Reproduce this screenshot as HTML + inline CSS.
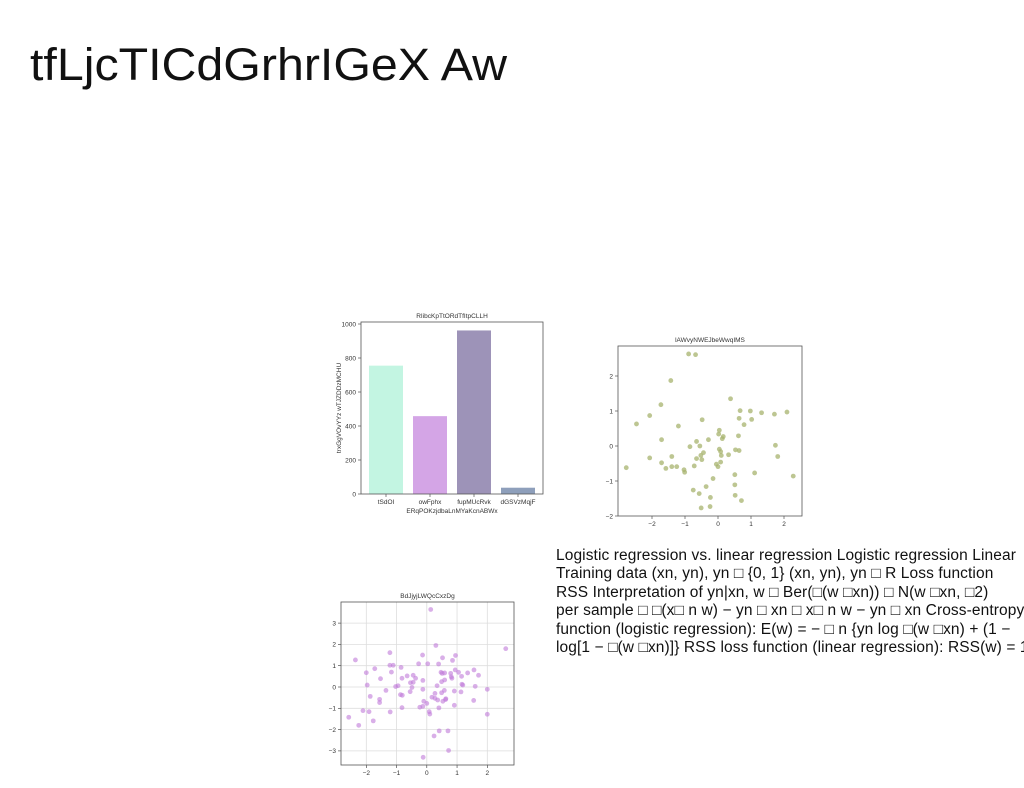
<!DOCTYPE html>
<html><head><meta charset="utf-8"><style>
html,body{margin:0;padding:0;background:#fff;}
body{width:1024px;height:788px;position:relative;overflow:hidden;font-family:"Liberation Sans",sans-serif;}
#txt{position:absolute;left:556px;top:547px;width:468px;font-size:15.5px;letter-spacing:0.1px;line-height:18.4px;color:#111;white-space:nowrap;overflow:hidden;}
svg{position:absolute;left:0;top:0;}
</style></head><body>
<svg id="s" width="1024" height="788">
<text x="30" y="80" font-size="45" font-family="Liberation Sans, sans-serif" fill="#111" textLength="477" lengthAdjust="spacingAndGlyphs">tfLjcTICdGrhrIGeX Aw</text>
</svg>
<div id="txt">Logistic regression vs. linear regression Logistic regression Linear<br>Training data (xn, yn), yn □ {0, 1} (xn, yn), yn □ R Loss function<br>RSS Interpretation of yn|xn, w □ Ber(□(w □xn)) □ N(w □xn, □2)<br>per sample □ □(x□ n w) − yn □ xn □ x□ n w − yn □ xn Cross-entropy<br>function (logistic regression): E(w) = − □ n {yn log □(w □xn) + (1 −<br>log[1 − □(w □xn)]} RSS loss function (linear regression): RSS(w) = 1</div>
<script>
// ---- bar chart data ----
const barCategories = ["tSdOI","owFphx","fupMUcRvk","dGSVzMqjF"];
const barValues = [755, 458, 962, 37];
const barColors = ["#c3f5e2","#d4a5e6","#9d93b8","#8e9fbb"];
const barYTicks = [0,200,400,600,800,1000];
// ---- scatter 1 data ----
const sc1X = [-2.78,-2.47,-2.07,-2.07,-1.73,-1.71,-1.71,-1.58,-1.43,-1.40,-1.40,-1.25,-1.20,-1.03,-1.01,-0.89,-0.85,-0.68,-0.72,-0.75,-0.65,-0.65,-0.57,-0.55,-0.52,-0.49,-0.48,-0.44,-0.51,-0.36,-0.29,-0.23,-0.24,-0.15,-0.05,0,0.02,0.04,0.04,0.08,0.08,0.10,0.13,0.16,0.32,0.38,0.51,0.51,0.52,0.53,0.62,0.64,0.64,0.67,0.71,0.79,0.98,1.02,1.11,1.32,1.71,1.74,1.81,2.09,2.28];
const sc1Y = [-0.62,0.63,0.87,-0.34,1.18,0.18,-0.48,-0.64,1.87,-0.30,-0.59,-0.59,0.57,-0.68,-0.75,2.63,-0.02,2.61,-0.57,-1.26,0.13,-0.36,-1.36,0,-0.27,-0.39,0.75,-0.19,-1.77,-1.16,0.18,-1.47,-1.73,-0.93,-0.52,-0.59,0.34,0.45,-0.09,-0.16,-0.46,-0.27,0.21,0.27,-0.25,1.35,-0.82,-1.11,-1.41,-0.11,0.29,0.79,-0.13,1.01,-1.56,0.61,1.0,0.76,-0.77,0.95,0.91,0.02,-0.30,0.97,-0.86];
const sc1XTicks = [-2,-1,0,1,2];
const sc1YTicks = [-2,-1,0,1,2];
// ---- scatter 2 data ----
const sc2X = [-2.58,-2.36,-2.25,-2.11,-2.0,-1.97,-1.91,-1.87,-1.77,-1.72,-1.56,-1.56,-1.53,-1.35,-1.22,-1.22,-1.21,-1.17,-1.11,-1.03,-0.95,-0.87,-0.85,-0.82,-0.81,-0.82,-0.65,-0.55,-0.54,-0.49,-0.45,-0.45,-0.37,-0.27,-0.23,-0.14,-0.13,-0.13,-0.13,-0.10,-0.12,0,0.03,0.08,0.10,0.13,0.17,0.24,0.27,0.27,0.30,0.34,0.36,0.39,0.40,0.41,0.47,0.49,0.49,0.51,0.52,0.53,0.58,0.59,0.59,0.62,0.63,0.70,0.72,0.79,0.81,0.85,0.83,0.91,0.91,0.94,0.95,1.05,1.13,1.15,1.16,1.19,1.35,1.55,1.56,1.60,1.71,2.0,2.0,2.61];
const sc2Y = [-1.42,1.27,-1.80,-1.11,0.67,0.09,-1.16,-0.44,-1.59,0.86,-0.58,-0.73,0.39,-0.16,1.61,1.02,-1.17,0.70,1.02,0.02,0.06,-0.36,0.92,0.41,-0.39,-0.97,0.52,-0.22,0.2,-0.02,0.55,0.22,0.41,1.09,-0.95,1.50,0.31,-0.11,-0.91,-0.67,-3.30,-0.77,1.09,-1.16,-1.27,3.64,-0.48,-2.30,-0.30,-0.53,1.95,0.06,-0.61,1.08,-0.98,-2.06,0.69,0.25,-0.27,0.64,1.37,-0.67,-0.16,0.33,0.66,-0.59,-0.55,-2.06,-2.98,0.64,0.48,1.25,0.41,-0.19,-0.86,0.80,1.48,0.69,-0.23,0.50,0.13,0.09,0.66,-0.63,0.80,0.03,0.55,-0.11,-1.28,1.80];
const sc2XTicks = [-2,-1,0,1,2];
const sc2YTicks = [-3,-2,-1,0,1,2,3];

const NS="http://www.w3.org/2000/svg";
const svg=document.getElementById('s');
function mk(tag,attrs,parent,text){const e=document.createElementNS(NS,tag);for(const k in attrs)e.setAttribute(k,attrs[k]);if(text!==undefined)e.textContent=text;(parent||svg).appendChild(e);return e;}
const FS="font-family:'Liberation Sans',sans-serif;font-size:6.5px;fill:#333";

// ---- bar chart ----
(function(){
 const L=361,R=543,T=322,B=494;
 const y=v=>B-(v/1000)*170;
 const x=i=>386+i*44;
 const g=mk('g',{});
 
 
 barCategories.forEach((c,i)=>{
  const r=mk('rect',{x:x(i)-17,y:y(barValues[i]),width:34,height:B-y(barValues[i]),fill:barColors[i]},g);
  
  
  mk('line',{x1:x(i),x2:x(i),y1:B,y2:B+3,stroke:'#333','stroke-width':0.6},g);
  const t=mk('text',{x:x(i),y:B+10,'text-anchor':'middle',style:FS},g,c);
  
  
 });
 barYTicks.forEach(v=>{
  mk('line',{x1:L-3,x2:L,y1:y(v),y2:y(v),stroke:'#333','stroke-width':0.6},g);
  const t=mk('text',{x:L-5,y:y(v)+2.3,'text-anchor':'end',style:FS},g,v);
  
  
 });
 const f=mk('rect',{x:L,y:T,width:R-L,height:B-T,fill:'none',stroke:'#555','stroke-width':0.8},g);
 
 
 const tt=mk('text',{x:(L+R)/2,y:T-4,'text-anchor':'middle',style:FS},g,'RIibcKpTtORdTfItpCLLH');
 
 
 const xt=mk('text',{x:(L+R)/2,y:B+19,'text-anchor':'middle',style:FS},g,'ERqPOKzjdbaLnMYaKcnABWx');
 
 
 const yt=mk('text',{x:0,y:0,'text-anchor':'middle',style:FS,transform:`translate(341,${(T+B)/2}) rotate(-90)`},g,'trxGgVOvYYz wTJZDDzMCHU');
 
 
})();

// ---- scatter helper ----
function scatter(o){
 const g=mk('g',{});
 
 
 const x=v=>o.x0+v*o.sx, y=v=>o.y0-v*o.sy;
 if(o.grid){
  o.xt.forEach(v=>mk('line',{x1:x(v),x2:x(v),y1:o.T,y2:o.B,stroke:'#ddd','stroke-width':0.8},g));
  o.yt.forEach(v=>mk('line',{x1:o.L,x2:o.R,y1:y(v),y2:y(v),stroke:'#ddd','stroke-width':0.8},g));
 }
 o.X.forEach((xv,i)=>{
  const c=mk('circle',{cx:x(xv),cy:y(o.Y[i]),r:2.4,fill:o.color,'fill-opacity':o.alpha},g);
  
  
 });
 o.xt.forEach(v=>{
  mk('line',{x1:x(v),x2:x(v),y1:o.B,y2:o.B+3,stroke:'#333','stroke-width':0.6},g);
  const t=mk('text',{x:x(v),y:o.B+10,'text-anchor':'middle',style:FS},g,v<0?'−'+(-v):v);
  
  
 });
 o.yt.forEach(v=>{
  mk('line',{x1:o.L-3,x2:o.L,y1:y(v),y2:y(v),stroke:'#333','stroke-width':0.6},g);
  const t=mk('text',{x:o.L-5,y:y(v)+2.3,'text-anchor':'end',style:FS},g,v<0?'−'+(-v):v);
  
  
 });
 const f=mk('rect',{x:o.L,y:o.T,width:o.R-o.L,height:o.B-o.T,fill:'none',stroke:'#555','stroke-width':0.8},g);
 
 
 const tt=mk('text',{x:(o.L+o.R)/2,y:o.T-4,'text-anchor':'middle',style:FS},g,o.title);
 
 
}
scatter({name:'olive-scatter-chart',L:618,R:802,T:346,B:516,x0:718,sx:33,y0:446,sy:35,X:sc1X,Y:sc1Y,xt:sc1XTicks,yt:sc1YTicks,color:'#a7b36e',alpha:0.75,title:'lAWvyNWEJbeWwqIMS',grid:false});
scatter({name:'purple-scatter-chart',L:341,R:514,T:602,B:765,x0:426.8,sx:30.25,y0:687,sy:21.3,X:sc2X,Y:sc2Y,xt:sc2XTicks,yt:sc2YTicks,color:'#c07ad8',alpha:0.6,title:'BdJjyjLWQcCxzDg',grid:true});
</script>
</body></html>
